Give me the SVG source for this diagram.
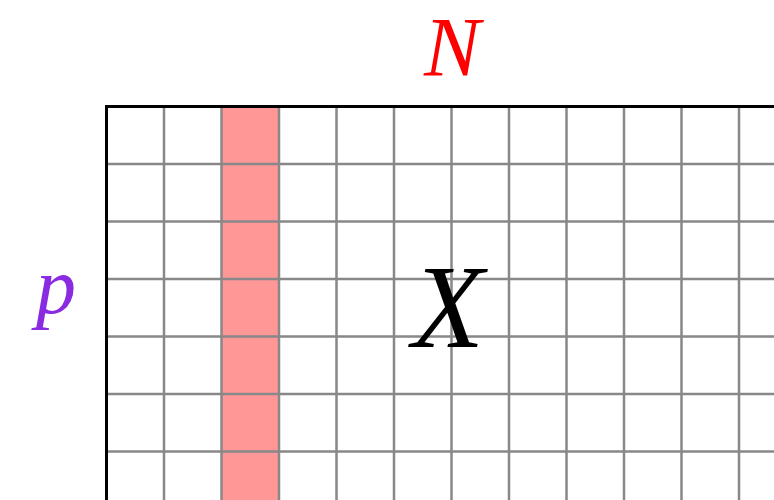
<svg xmlns="http://www.w3.org/2000/svg" width="774" height="500" viewBox="0 0 774 500">
<style>
.g{stroke:#888;stroke-width:2.5;fill:none}
.b{stroke:#000;stroke-width:3;fill:none}
.m{font-family:"Liberation Serif","DejaVu Serif",serif;font-style:italic;text-anchor:middle}
</style>
<rect width="774" height="500" fill="#fff"/>
<g id="highlight"><rect x="221.5" y="106.5" width="57.5" height="394" fill="#ff9797"/></g>
<g id="grid">
<path class="g" d="M164 106V500M221.5 106V500M279 106V500M336.5 106V500M394 106V500M451.5 106V500M509 106V500M566.5 106V500M624 106V500M681.5 106V500M739 106V500"/>
<path class="g" d="M106 164H774M106 221.5H774M106 279H774M106 336.5H774M106 394H774M106 451.5H774"/>
<path class="b" d="M106.5 500V106.5H774"/>
</g>
<g id="labels">
<text class="m" x="452" y="76" font-size="84" fill="#ff0000">N</text>
<text class="m" x="56" y="313" font-size="80" fill="#8a2be2">p</text>
<text class="m" x="448" y="347" font-size="118" fill="#000">X</text>
</g>
</svg>
